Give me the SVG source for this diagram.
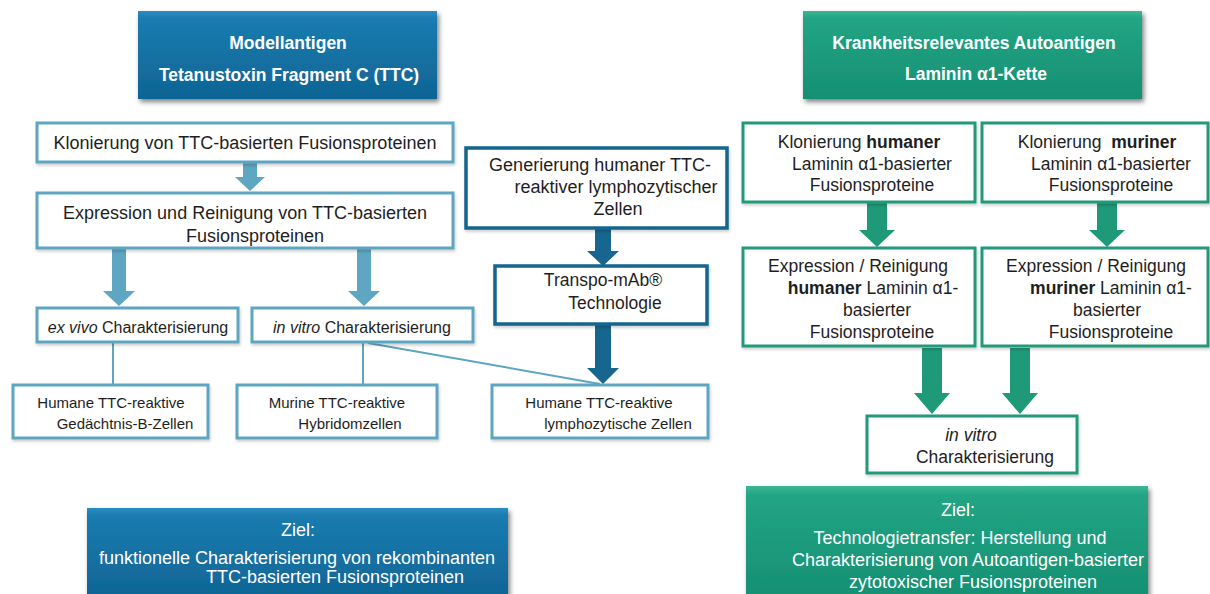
<svg xmlns="http://www.w3.org/2000/svg" width="1210" height="594" viewBox="0 0 1210 594">
  <defs>
    <linearGradient id="gBlue" x1="0" y1="0" x2="0" y2="1">
      <stop offset="0" stop-color="#2a8ec2"/>
      <stop offset="0.08" stop-color="#1a7cb0"/>
      <stop offset="1" stop-color="#0f6494"/>
    </linearGradient>
    <linearGradient id="gGreen" x1="0" y1="0" x2="0" y2="1">
      <stop offset="0" stop-color="#3cb795"/>
      <stop offset="0.08" stop-color="#22a584"/>
      <stop offset="1" stop-color="#168f73"/>
    </linearGradient>
    <filter id="shadow" x="-5%" y="-10%" width="112%" height="130%">
      <feGaussianBlur in="SourceAlpha" stdDeviation="2.5"/>
      <feOffset dx="2" dy="3" result="b"/>
      <feComponentTransfer><feFuncA type="linear" slope="0.5"/></feComponentTransfer>
      <feMerge><feMergeNode/><feMergeNode in="SourceGraphic"/></feMerge>
    </filter>
    <filter id="soft" x="-5%" y="-10%" width="112%" height="130%">
      <feGaussianBlur in="SourceAlpha" stdDeviation="1.5"/>
      <feOffset dx="1" dy="2" result="b"/>
      <feComponentTransfer><feFuncA type="linear" slope="0.2"/></feComponentTransfer>
      <feMerge><feMergeNode/><feMergeNode in="SourceGraphic"/></feMerge>
    </filter>
  </defs>
  <style>
    text { font-family: "Liberation Sans", Arial, sans-serif; fill: #1e1e1e; text-anchor: middle; }
    .hdr { fill: #ffffff; font-weight: bold; font-size: 17.5px; }
    .goal { fill: #ffffff; font-size: 18px; }
    .blueFill { fill: url(#gBlue); filter: url(#shadow); }
    .greenFill { fill: url(#gGreen); filter: url(#shadow); }
    .lb { fill: #ffffff; stroke: #5da5c1; stroke-width: 3; filter: url(#soft); }
    .db { fill: #ffffff; stroke: #15658f; stroke-width: 3.5; filter: url(#soft); }
    .gb { fill: #ffffff; stroke: #22997a; stroke-width: 3; filter: url(#soft); }
    .t18 { font-size: 18px; }
    .t17 { font-size: 17.5px; }
    .t16 { font-size: 16px; }
    .t14 { font-size: 15px; }
    .arrL { fill: #5ea6c2; }
    .arrD { fill: #17668f; }
    .arrG { fill: #1f9a79; }
    .ln { stroke: #5da5c1; stroke-width: 2; fill: none; }
    .b { font-weight: bold; }
    .i { font-style: italic; }
  </style>

  <!-- left header -->
  <g id="hdr-ttc">
    <rect class="blueFill" x="138" y="11" width="299" height="88"/>
    <text class="hdr" x="288" y="49">Modellantigen</text>
    <text class="hdr" x="289" y="81">Tetanustoxin Fragment C (TTC)</text>
  </g>

  <!-- right header -->
  <g id="hdr-laminin">
    <rect class="greenFill" x="803" y="11" width="339" height="88"/>
    <text class="hdr" x="974" y="49">Krankheitsrelevantes Autoantigen</text>
    <text class="hdr" x="976" y="80">Laminin α1-Kette</text>
  </g>

  <!-- connectors: block arrows and plain links -->
  <g id="connectors">
    <polygon class="arrL" points="243,163 257,163 257,177 265,177 250,191 235,177 243,177"/>
    <polygon class="arrL" points="112,249 126,249 126,291 135,291 119,306 103,291 112,291"/>
    <polygon class="arrL" points="357,249 371,249 371,291 380,291 364,306 348,291 357,291"/>
    <polygon class="arrD" points="595,229 611,229 611,251 619,251 603,266 587,251 595,251"/>
    <polygon class="arrD" points="595,325 611,325 611,368 619,368 603,384 587,368 595,368"/>
    <polygon class="arrG" points="867,203 887,203 887,230 895,230 877,247 859,230 867,230"/>
    <polygon class="arrG" points="1097,203 1117,203 1117,230 1125,230 1107,247 1089,230 1097,230"/>
    <polygon class="arrG" points="922,348 942,348 942,393 950,393 932,414 914,393 922,393"/>
    <polygon class="arrG" points="1010,348 1030,348 1030,393 1038,393 1020,414 1002,393 1010,393"/>
    <line class="ln" x1="113" y1="343" x2="113" y2="385"/>
    <line class="ln" x1="363" y1="343" x2="363" y2="385"/>
    <line class="ln" x1="368" y1="343" x2="600" y2="384"/>
  </g>

  <g id="n-klonierung-ttc">
    <rect class="lb" x="37" y="123" width="416" height="39"/>
    <text class="t18" x="245" y="148.5">Klonierung von TTC-basierten Fusionsproteinen</text>
  </g>

  <g id="n-expression-ttc">
    <rect class="lb" x="37" y="193" width="416" height="55"/>
    <text class="t18" x="245" y="218.5">Expression und Reinigung von TTC-basierten</text>
    <text class="t18" x="255" y="241.5">Fusionsproteinen</text>
  </g>

  <g id="n-exvivo">
    <rect class="lb" x="37" y="308" width="201" height="34"/>
    <text class="t16" x="138" y="332.5"><tspan class="i">ex vivo</tspan> Charakterisierung</text>
  </g>

  <g id="n-invitro-ttc">
    <rect class="lb" x="252" y="308" width="221" height="34"/>
    <text class="t16" x="362" y="332.5"><tspan class="i">in vitro</tspan> Charakterisierung</text>
  </g>

  <g id="n-bzellen">
    <rect class="lb" x="13" y="385" width="195" height="53"/>
    <text class="t14" x="111" y="408">Humane TTC-reaktive</text>
    <text class="t14" x="125" y="428.5">Gedächtnis-B-Zellen</text>
  </g>

  <g id="n-hybridom">
    <rect class="lb" x="237" y="385" width="200" height="53"/>
    <text class="t14" x="337" y="408">Murine TTC-reaktive</text>
    <text class="t14" x="350" y="428.5">Hybridomzellen</text>
  </g>

  <g id="n-generierung">
    <rect class="db" x="466" y="148" width="261" height="80"/>
    <text class="t18" x="600" y="171">Generierung humaner TTC-</text>
    <text class="t18" x="616" y="193">reaktiver lymphozytischer</text>
    <text class="t18" x="618" y="215">Zellen</text>
  </g>

  <g id="n-transpo">
    <rect class="db" x="495" y="266" width="212" height="58"/>
    <text class="t17" x="603" y="286">Transpo-mAb®</text>
    <text class="t17" x="615" y="309">Technologie</text>
  </g>

  <g id="n-lymphozyten">
    <rect class="lb" x="492" y="385" width="216" height="53"/>
    <text class="t14" x="599" y="407.5">Humane TTC-reaktive</text>
    <text class="t14" x="618" y="428.5">lymphozytische Zellen</text>
  </g>

  <g id="n-klon-human">
    <rect class="gb" x="743" y="123" width="232" height="79"/>
    <text class="t17" x="859" y="148"><tspan>Klonierung </tspan><tspan class="b">humaner</tspan></text>
    <text class="t17" x="872" y="169.5">Laminin α1-basierter</text>
    <text class="t17" x="872" y="191">Fusionsproteine</text>
  </g>

  <g id="n-klon-murin">
    <rect class="gb" x="982" y="123" width="226" height="79"/>
    <text class="t17" x="1097" y="148" xml:space="preserve">Klonierung  <tspan class="b">muriner</tspan></text>
    <text class="t17" x="1111" y="169.5">Laminin α1-basierter</text>
    <text class="t17" x="1111" y="191">Fusionsproteine</text>
  </g>

  <g id="n-expr-human">
    <rect class="gb" x="743" y="248" width="232" height="98"/>
    <text class="t17" x="858" y="272">Expression / Reinigung</text>
    <text class="t17" x="873" y="294"><tspan class="b">humaner</tspan> Laminin α1-</text>
    <text class="t17" x="877" y="316">basierter</text>
    <text class="t17" x="872" y="337.5">Fusionsproteine</text>
  </g>

  <g id="n-expr-murin">
    <rect class="gb" x="982" y="248" width="226" height="98"/>
    <text class="t17" x="1096" y="272">Expression / Reinigung</text>
    <text class="t17" x="1111" y="294"><tspan class="b">muriner</tspan> Laminin α1-</text>
    <text class="t17" x="1107" y="316">basierter</text>
    <text class="t17" x="1111" y="337.5">Fusionsproteine</text>
  </g>

  <g id="n-invitro-laminin">
    <rect class="gb" x="867" y="416" width="210" height="57"/>
    <text class="t17 i" x="971" y="441">in vitro</text>
    <text class="t17" x="985" y="463">Charakterisierung</text>
  </g>

  <g id="ziel-ttc">
    <rect class="blueFill" x="87" y="508" width="421" height="92"/>
    <text class="goal" x="298" y="536">Ziel:</text>
    <text class="goal" x="297" y="564">funktionelle Charakterisierung von rekombinanten</text>
    <text class="goal" x="335" y="583">TTC-basierten Fusionsproteinen</text>
  </g>

  <g id="ziel-laminin">
    <rect class="greenFill" x="746" y="486" width="402" height="114"/>
    <text class="goal" x="958" y="516">Ziel:</text>
    <text class="goal" x="960" y="544">Technologietransfer: Herstellung und</text>
    <text class="goal" x="968" y="566">Charakterisierung von Autoantigen-basierter</text>
    <text class="goal" x="973" y="588">zytotoxischer Fusionsproteinen</text>
  </g>
</svg>
